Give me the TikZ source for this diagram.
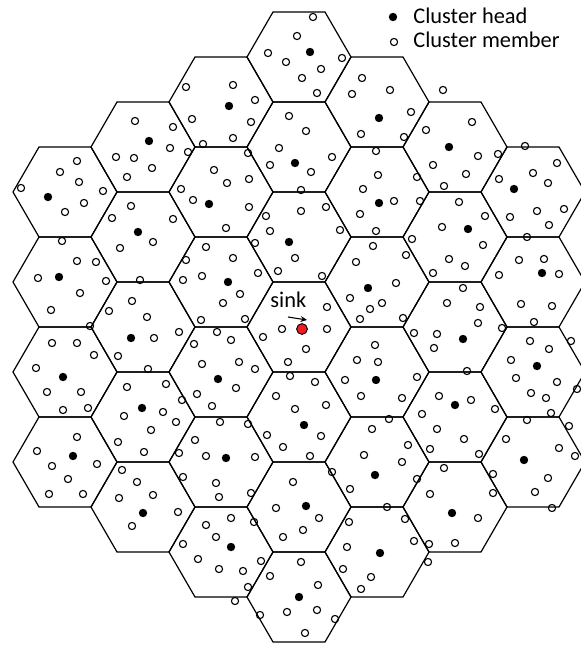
\documentclass[tikz,border=0pt]{standalone}
\usepackage{fontspec}
\setmainfont{Carlito}
\usepackage{tikz}
\usetikzlibrary{arrows.meta, positioning}
\usepackage{xcolor}
\definecolor{sinkred}{RGB}{237,28,36}

\begin{document}
\begin{tikzpicture}[x=0.5pt, y=-0.5pt,
    hexcell/.style={line width=0.6pt},
    member/.style={draw, line width=0.55pt},
    head/.style={fill=black},
    sinkdot/.style={circle, draw, line width=0.45pt, fill=sinkred, inner sep=0pt, minimum size=5.4pt},
    lbl/.style={font=\fontsize{11.2}{13}\selectfont, inner sep=0pt}]
  \useasboundingbox (0,0) rectangle (581,649);
  \clip (0,0) rectangle (581,649);
  % hexagonal cells, column by column
  \foreach \q/\n in {-3/4,-2/5,-1/6,0/7,1/6,2/5,3/4}
    \foreach \k in {1,...,\n} {
      \pgfmathsetmacro{\cx}{299+78*(\q)}
      \pgfmathsetmacro{\cy}{327+90*(\k-(\n+1)/2)}
      \draw[hexcell] (\cx,\cy) +(52,0) -- +(26,45) -- +(-26,45) -- +(-52,0) -- +(-26,-45) -- +(26,-45) -- cycle;
    }
  % cluster members
  \foreach \x/\y in {268/53, 286/62, 186/87, 233/85, 255/100, 192/119, 251/122, 233/138, 203/144, 289/116,
      135/121, 173/127, 170/148, 188/152, 116/157, 134/158, 152/168, 127/177, 77/161, 60/172, 79/182,
      21/188, 103/191, 84/203, 65/212, 248/153, 279/148, 270/165, 214/170, 227/183, 249/179, 181/189,
      193/200, 249/207, 266/216, 131/206, 112/218, 173/219,
      313/17, 297/36, 342/58, 321/69, 302/78, 317/93, 362/78, 352/94, 390/90, 411/112, 361/134, 404/137,
      443/90, 472/122, 426/130, 478/156, 498/154, 433/165, 466/174, 444/186, 525/146, 557/163, 533/173,
      548/183, 499/179, 537/211, 564/209, 510/217, 306/131, 332/157, 311/172, 301/190, 301/211, 326/207,
      376/151, 378/175, 363/189, 394/201, 360/214, 417/177, 420/201, 459/202, 485/216,
      153/242, 120/248, 226/228, 270/231, 255/243, 278/271, 62/241, 77/261, 96/262, 38/278, 106/281,
      80/293, 51/310, 90/326, 206/247, 186/260, 233/258, 258/273, 202/276, 183/280, 240/294, 223/303,
      201/320, 245/319, 140/280, 132/301, 109/311, 147/317, 179/332, 154/338, 118/356, 148/369, 217/332,
      231/340, 194/344, 263/337, 282/329, 239/362, 255/369, 202/364, 236/388, 197/394, 276/396, 212/406,
      220/422, 248/424, 288/362, 290/376, 52/343, 77/343, 94/355, 36/368, 47/392, 81/392, 63/410, 88/408,
      127/387, 166/384, 182/400, 124/416, 163/412, 176/422, 151/430,
      340/230, 376/231, 295/258, 322/276, 373/246, 406/255, 356/262, 412/239, 396/283, 350/298, 382/303,
      370/309, 360/319, 403/318, 327/307, 327/329, 306/349, 442/227, 483/245, 449/259, 465/266, 433/273,
      549/225, 527/237, 519/260, 544/259, 559/274, 499/275, 521/304, 552/306, 534/322, 463/288, 447/303,
      480/307, 478/323, 502/328, 437/334, 414/333, 434/348, 467/371, 375/345, 357/360, 378/362, 345/380,
      417/377, 361/396, 402/398, 530/341, 549/349, 571/341, 511/360, 516/378, 557/382, 531/393, 546/398,
      577/389, 551/413, 527/420, 569/426, 439/396, 471/400, 422/414, 495/409, 389/419, 437/429, 372/429,
      315/382, 326/405, 295/409,
      77/437, 37/451, 52/466, 97/464, 68/479, 49/494, 83/494, 118/442, 144/452, 195/440, 179/453, 206/456,
      255/457, 267/435, 283/447, 183/477, 216/483, 219/497, 251/493, 122/470, 137/482, 153/495, 119/498,
      178/512, 132/526, 231/518, 206/525, 216/537, 254/522, 276/508, 283/537, 183/544, 198/559, 219/569,
      243/571, 261/561, 270/576, 248/587, 235/601, 260/615, 287/612, 293/482,
      321/436, 310/456, 408/445, 364/455, 402/462, 417/479, 350/489, 332/472, 387/507, 464/439, 430/449,
      479/454, 444/468, 430/494, 478/518, 493/474, 493/493, 455/543, 429/544, 405/519, 414/541, 428/562,
      506/439, 559/448, 575/456, 548/478, 535/492, 552/508, 319/518, 303/530, 349/522, 347/547, 343/569,
      371/577, 361/589, 301/562, 318/585, 317/610, 335/619, 305/633}
    \draw[member] (\x,\y) circle (3.6);
  % cluster heads
  \foreach \x/\y in {229/106, 149/141, 48/197, 209/204, 310/52, 379/118, 449/147, 295/163, 379/203,
      514/189, 138/232, 59/277, 228/282, 131/338, 63/377, 218/379, 142/408, 289/242, 468/229, 542/273,
      368/288, 463/339, 537/366, 376/380, 455/405, 304/425, 73/456, 226/458, 143/513, 231/547, 375/475,
      524/460, 306/506, 452/513, 380/553, 299/597}
    \fill[head] (\x,\y) circle (4.2);
  % sink
  \node[sinkdot] (sink) at (302,329) {};
  \node[lbl, anchor=base west] (sinktxt) at (270,307) {sink};
  \coordinate (arrfrom) at (288,317);
  \coordinate (arrto) at (307,320);
  \draw[-{Stealth[length=3.2pt, width=3pt]}, line width=0.55pt] (arrfrom) -- (arrto);
  % legend
  \fill[head] (393,17) circle (4.2);
  \draw[member] (394,42) circle (3.6);
  \node[lbl, anchor=base west] (headtxt) at (413,23) {Cluster head};
  \node[lbl, anchor=base west] (membertxt) at (413,47) {Cluster member};
\end{tikzpicture}
\end{document}
